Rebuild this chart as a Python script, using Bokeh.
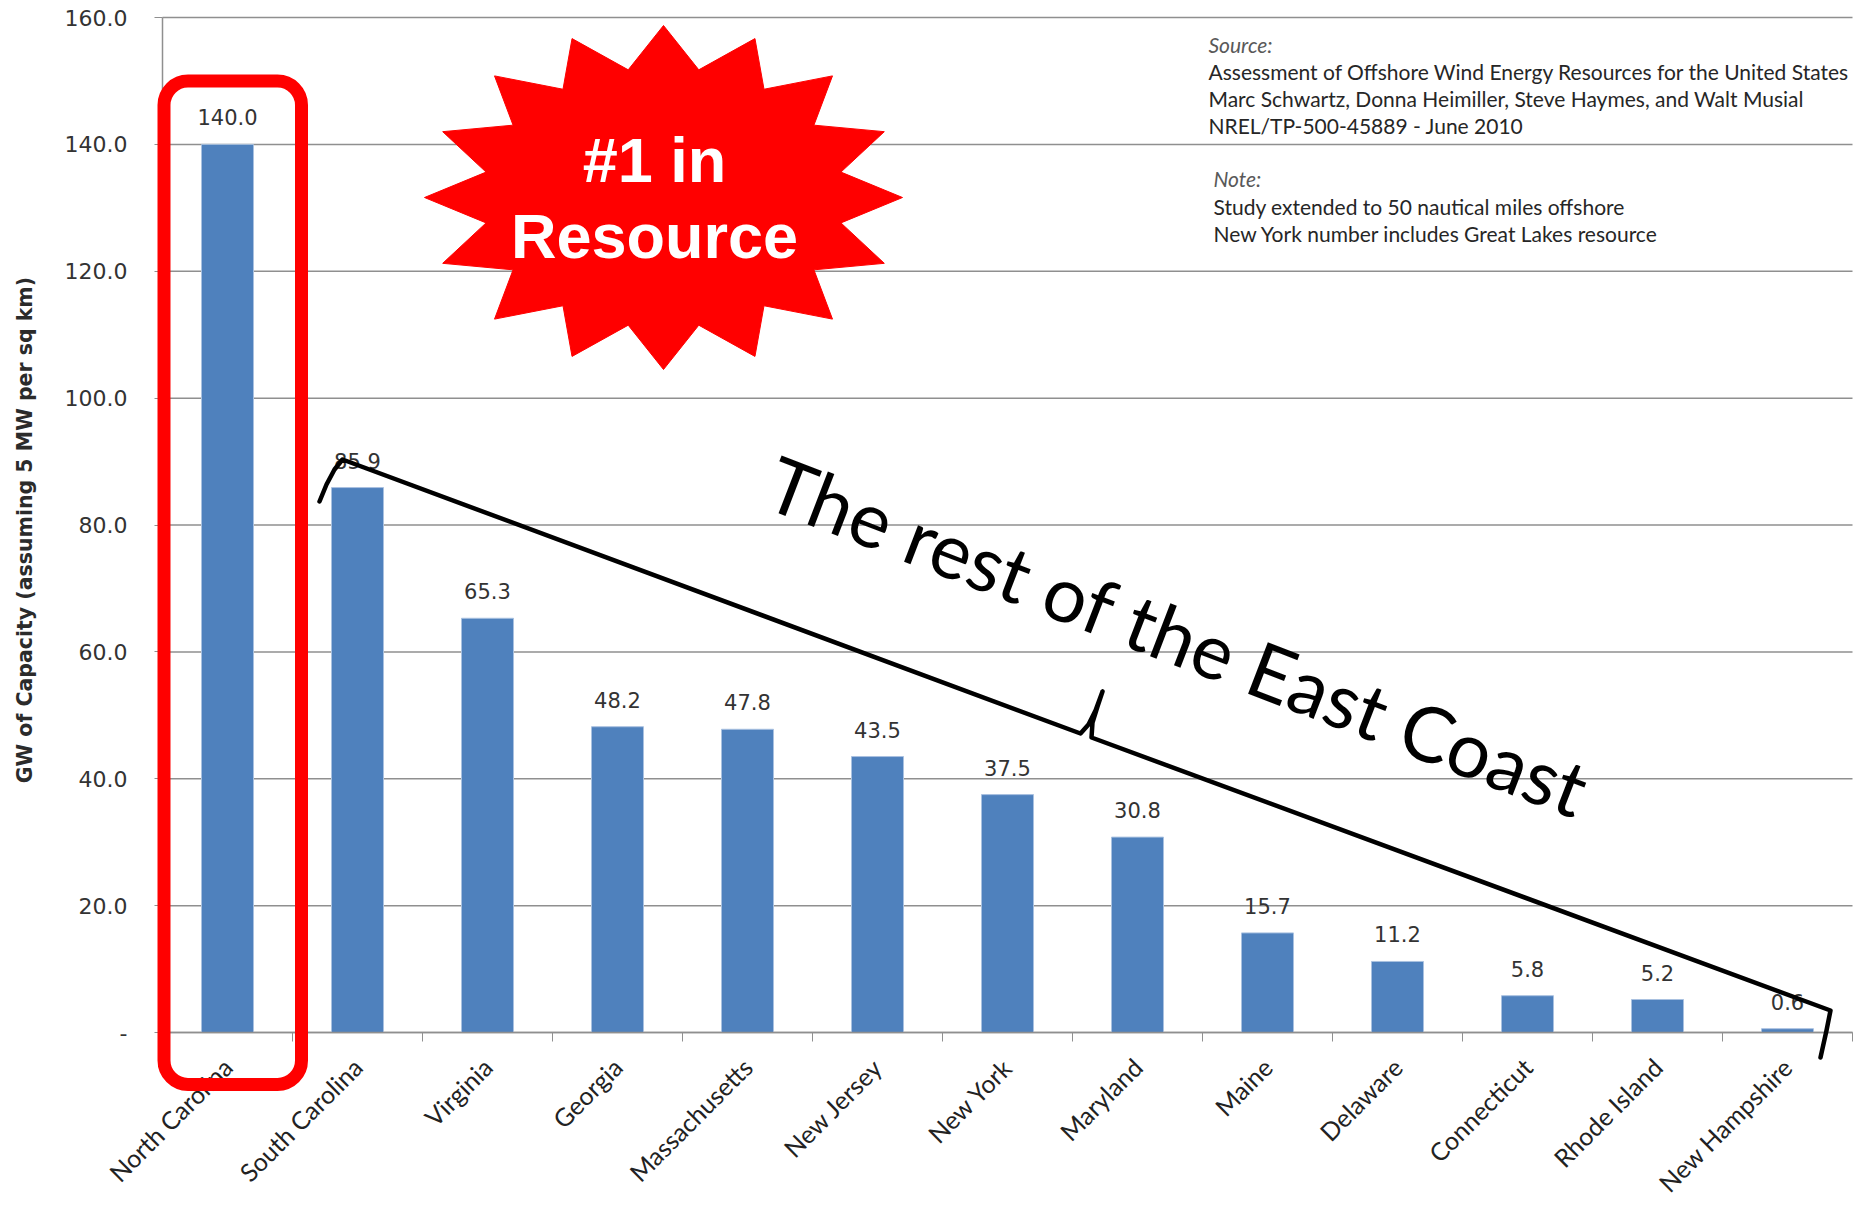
import math
from bokeh.plotting import figure
from bokeh.models import (Range1d, LinearAxis, FixedTicker, BoxAnnotation, PolyAnnotation)
from bokeh.core.properties import value
from bokeh.embed import file_html
from bokeh.resources import INLINE

# ---------------- data ----------------
states = ["North Carolina", "South Carolina", "Virginia", "Georgia", "Massachusetts",
          "New Jersey", "New York", "Maryland", "Maine", "Delaware", "Connecticut",
          "Rhode Island", "New Hampshire"]
capacity_gw = [140.0, 85.9, 65.3, 48.2, 47.8, 43.5, 37.5, 30.8, 15.7, 11.2, 5.8, 5.2, 0.6]
y_ticks = [0, 20, 40, 60, 80, 100, 120, 140, 160]
y_tick_labels = ["-", "20.0", "40.0", "60.0", "80.0", "100.0", "120.0", "140.0", "160.0"]
y_label = "GW of Capacity  (assuming 5 MW per sq km)"
source_head = "Source:"
source_lines = ["Assessment of Offshore Wind Energy Resources for the United States",
                "Marc Schwartz, Donna Heimiller, Steve Haymes, and Walt Musial",
                "NREL/TP-500-45889 - June 2010"]
note_head = "Note:"
note_lines = ["Study extended to 50 nautical miles offshore",
              "New York number includes Great Lakes resource"]
value_labels = [f"{v:.1f}" for v in capacity_gw]

# ---------------- layout ----------------
W, H = 1853, 1205
FL, FR, FT, Y0 = 162, 1852, 17, 1032     # axis left/right, row of 160 and of 0
YMAX = 160
N = len(states)
CW = (FR - FL) / N                        # pixels per category
PX_PER_UNIT = (Y0 - FT) / YMAX
xc = [i + 0.5 for i in range(N)]          # category centres on the linear x scale
bounds = list(range(N + 1))               # category boundaries (tick marks)

def dx(X):
    return (X - FL) / CW

def dy(Y):
    return (Y0 - Y) / PX_PER_UNIT

GRID = "#8f8f8f"
BAR = "#4F81BD"

# the frame covers the whole canvas; axes are pinned at x=0 / y=0
p = figure(width=W, height=H, x_range=Range1d(dx(0), dx(W)), y_range=Range1d(dy(H), dy(0)),
           output_backend="svg", toolbar_location=None, x_axis_location=None,
           min_border_left=0, min_border_right=0, min_border_top=0, min_border_bottom=0)
p.outline_line_color = None
p.background_fill_color = "white"
p.border_fill_color = "white"
p.xgrid.visible = False
p.ygrid.visible = False

# horizontal gridlines across the plotting area
p.segment(x0=[0] * len(y_ticks), x1=[N] * len(y_ticks), y0=y_ticks, y1=y_ticks,
          line_color=GRID, line_width=1.5)

# y axis
ya = p.yaxis[0]
ya.fixed_location = 0
ya.ticker = FixedTicker(ticks=y_ticks)
ya.bounds = (0, YMAX)
ya.major_label_overrides = {t: l for t, l in zip(y_ticks, y_tick_labels)}
ya.major_label_text_font = "DejaVu Sans"
ya.major_label_text_font_size = "22px"
ya.major_label_text_color = "#333333"
ya.major_tick_in = 0
ya.major_tick_out = 8
ya.major_tick_line_color = GRID
ya.minor_tick_line_color = None
ya.axis_line_color = GRID
ya.axis_line_width = 1.5
ya.major_label_standoff = 27

p.text(x=[dx(24)], y=[dy(526)], text=[y_label], angle=math.pi / 2, text_align="center",
       text_baseline="middle", text_font=value("DejaVu Sans"), text_font_style="bold",
       text_font_size="20.5px", text_color="#2b2b2b")

# x axis (drawn at value 0): boundary ticks + category labels
tick_axis = LinearAxis(ticker=FixedTicker(ticks=bounds), fixed_location=0, bounds=(0, N),
                       major_label_overrides={b: "" for b in bounds},
                       major_label_text_font_size="1px", major_label_standoff=0,
                       major_tick_in=0, major_tick_out=9, major_tick_line_color=GRID,
                       minor_tick_line_color=None, axis_line_color=GRID, axis_line_width=1.5)
p.add_layout(tick_axis, "below")
cat_axis = LinearAxis(ticker=FixedTicker(ticks=xc), fixed_location=0, bounds=(0, N),
                      major_label_overrides={c: s for c, s in zip(xc, states)},
                      major_tick_line_color=None, minor_tick_line_color=None,
                      axis_line_color=None,
                      major_label_orientation=math.pi / 4, major_label_standoff=24,
                      major_label_text_font="Lato", major_label_text_font_size="25px",
                      major_label_text_color="#222222")
p.add_layout(cat_axis, "below")

# bars and values
p.vbar(x=xc, top=capacity_gw, width=0.40, fill_color=BAR, line_color="#a9c1e0",
       line_width=1)
p.text(x=xc, y=capacity_gw, text=value_labels, text_align="center",
       text_baseline="middle", y_offset=-27, text_font=value("DejaVu Sans"),
       text_font_size="21px", text_color="#333333")

# source / note block
src_x = dx(1208)
p.text(x=[src_x], y=[dy(44)], text=[source_head], text_font=value("Lato"),
       text_font_style="italic", text_font_size="21px", text_color="#595959",
       text_baseline="middle")
p.text(x=[src_x] * 3, y=[dy(71), dy(98), dy(125)], text=source_lines,
       text_font=value("Lato"), text_font_size="21px", text_color="#262626",
       text_baseline="middle")
note_x = dx(1213)
p.text(x=[note_x], y=[dy(178)], text=[note_head], text_font=value("Lato"),
       text_font_style="italic", text_font_size="21px", text_color="#595959",
       text_baseline="middle")
p.text(x=[note_x] * 2, y=[dy(206), dy(233)], text=note_lines,
       text_font=value("Lato"), text_font_size="21px", text_color="#262626",
       text_baseline="middle")

# red star
cx, cy, rx, ry, inner = 663, 197, 239, 172, 0.757
sx, sy = [], []
for k in range(32):
    a = math.pi / 2 + k * math.pi / 16
    r = 1.0 if k % 2 == 0 else inner
    sx.append(dx(cx + r * rx * math.cos(a)))
    sy.append(dy(cy - r * ry * math.sin(a)))
p.patch(sx, sy, fill_color="#FF0000", line_color="#FF0000", line_width=1)
p.text(x=[dx(654), dx(654)], y=[dy(159), dy(235)], text=["#1 in", "Resource"],
       text_align="center", text_baseline="middle",
       text_font=value("Liberation Sans"), text_font_style="bold",
       text_font_size="63px", text_color="white")

# red rounded box around North Carolina
p.add_layout(BoxAnnotation(left=dx(163.5), right=dx(301), top=dy(80.5), bottom=dy(1084),
                           fill_alpha=0, fill_color=None, line_color="#FF0000",
                           line_width=13, line_alpha=1, border_radius=24, level="overlay"))

# bracket
pts = [(319, 501), (326, 484), (334, 469), (342, 459), (1080, 733), (1088, 724),
       (1095, 710), (1102, 691), (1097, 706), (1092, 722), (1091, 737), (1830, 1010),
       (1826, 1030), (1820, 1057)]
path = pts + pts[-2::-1]
p.add_layout(PolyAnnotation(xs=[dx(a) for a, b in path], ys=[dy(b) for a, b in path],
                            fill_color=None, fill_alpha=0, line_color="black",
                            line_width=4.5, line_join="round", line_alpha=1,
                            level="overlay"))

p.text(x=[dx(771)], y=[dy(478)], text=["The rest of the East Coast"], angle=-0.367,
       text_align="left", text_baseline="middle", text_font=value("Lato"),
       text_font_size="77px", text_color="black")

open("out.html", "w").write(file_html(p, INLINE))
